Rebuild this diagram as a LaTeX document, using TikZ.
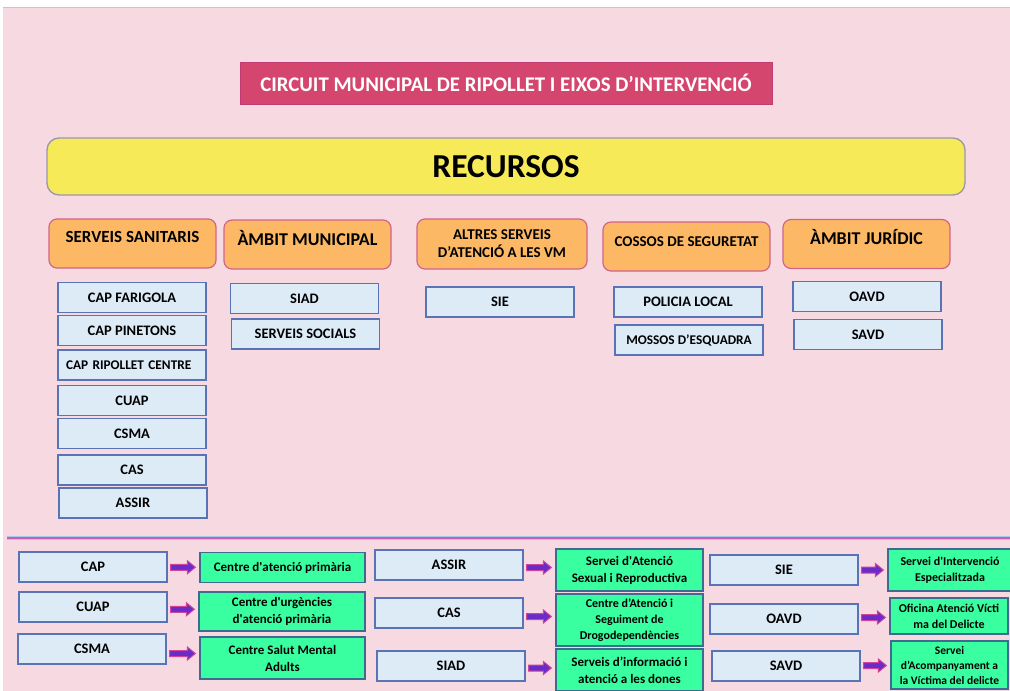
\documentclass[tikz,border=0pt]{standalone}
\usepackage{fontspec}
\setmainfont{Carlito}
\usetikzlibrary{calc}
\definecolor{bgpink}{HTML}{F6D9E1}
\definecolor{titlefill}{HTML}{D5466F}
\definecolor{titleedge}{HTML}{C23C74}
\definecolor{resfill}{HTML}{F6EA58}
\definecolor{resedge}{HTML}{9A96AC}
\definecolor{catfill}{HTML}{FDB865}
\definecolor{catedge}{HTML}{D2648A}
\definecolor{itemfill}{HTML}{DDEBF7}
\definecolor{itemedge}{HTML}{5A72B6}
\definecolor{descfill}{HTML}{3AFFA0}
\definecolor{descedge}{HTML}{3E6C90}
\definecolor{arrowfill}{HTML}{6A2BC9}
\definecolor{arrowedge}{HTML}{D0449A}
\definecolor{sepglow}{HTML}{A9C8EA}
\definecolor{sepline}{HTML}{C562B8}
\tikzset{
  catbox/.style={draw=catedge, fill=catfill, rounded corners=8pt, line width=1.2pt,
    minimum width=167pt, minimum height=49pt, inner sep=0pt, align=center,
    font=\fontsize{15}{18}\selectfont\bfseries},
  bigcat/.style={font=\fontsize{18}{20}\selectfont\bfseries},
  itembox/.style={draw=itemedge, fill=itemfill, line width=1.3pt, inner sep=0pt,
    minimum width=148pt, minimum height=30pt, font=\fontsize{14.5}{16}\selectfont\bfseries},
  descbox/.style={draw=descedge, fill=descfill, line width=1.3pt, inner sep=0pt, align=center,
    font=\fontsize{13}{17}\selectfont\bfseries},
  lift/.style={text depth=#1},
  arrowbody/.style={fill=arrowfill, draw=arrowedge, line width=1pt},
}
% block arrow from one box to the next
\newcommand{\linkarrow}[2]{%
  \draw[arrowbody] let \p1=(#1.east), \p2=(#2.west), \n1={(\y1+\y2)/2} in
    (\x1+3pt,\n1+3pt) -- (\x2-12pt,\n1+3pt) -- (\x2-12pt,\n1+6.5pt) -- (\x2-4pt,\n1)
    -- (\x2-12pt,\n1-6.5pt) -- (\x2-12pt,\n1-3pt) -- (\x1+3pt,\n1-3pt) -- cycle;}

\begin{document}
\begin{tikzpicture}[x=1pt,y=-1pt]
\useasboundingbox (0,0) rectangle (1010,691);
% background
\fill[white] (0,0) rectangle (1010,691);
\fill[bgpink] (3,7) rectangle (1010,691);
\draw[gray!45, line width=1pt] (3,7) -- (1010,7);
% title and header
\node[draw=titleedge, fill=titlefill, line width=1pt, minimum width=532pt, minimum height=42pt,
  text=white, font=\fontsize{20.8}{24}\selectfont\bfseries] (title) at (506,83)
  {CIRCUIT MUNICIPAL DE RIPOLLET I EIXOS D’INTERVENCIÓ};
\node[draw=resedge, fill=resfill, line width=1.3pt, rounded corners=12pt, minimum width=918pt,
  minimum height=57pt, font=\fontsize{33.5}{38}\selectfont\bfseries] (recursos) at (506,166.5) {RECURSOS};
% row of categories
\node[catbox, font=\fontsize{17}{20}\selectfont\bfseries, lift=13pt] (sanit) at (132.5,243.5) {SERVEIS SANITARIS};
\node[catbox, bigcat, lift=14pt] (munic) at (307.5,244.5) {ÀMBIT MUNICIPAL};
\node[catbox, minimum width=170pt, minimum height=50pt] (altres) at (502,244)
  {ALTRES SERVEIS\\D’ATENCIÓ A LES VM};
\node[catbox, lift=9pt] (cossos) at (686.5,246.5) {COSSOS DE SEGURETAT};
\node[catbox, bigcat, lift=14pt] (jurid) at (866.5,244) {ÀMBIT JURÍDIC};
% column 1 of resources
\node[itembox] (farigola) at (132,297.5) {CAP FARIGOLA};
\node[itembox] (pinetons) at (132,330.5) {CAP PINETONS};
\node[itembox, font=\fontsize{13.3}{15}\selectfont\bfseries, text width=132pt, align=left] (centre) at (132,365) {CAP RIPOLLET CENTRE};
\node[itembox] (cuap) at (132,400.5) {CUAP};
\node[itembox] (csma) at (132,433.5) {CSMA};
\node[itembox] (cas) at (132,470) {CAS};
\node[itembox] (assir) at (133,503) {ASSIR};
% columns 2 to 5
\node[itembox] (siad) at (304.5,298.5) {SIAD};
\node[itembox] (socials) at (305.5,334) {SERVEIS SOCIALS};
\node[itembox] (sie) at (500,302) {SIE};
\node[itembox] (policia) at (688,302) {POLICIA LOCAL};
\node[itembox, font=\fontsize{13.3}{15}\selectfont\bfseries] (mossos) at (689,340) {MOSSOS D’ESQUADRA};
\node[itembox] (oavd) at (867,296.5) {OAVD};
\node[itembox] (savd) at (868,334.5) {SAVD};
% separator
\draw[sepglow, line width=4pt] (7,538) -- (1010,538);
\draw[sepline, line width=1.3pt] (7,538) -- (1010,538);
% glossary, left
\node[itembox] (capk) at (93,567) {CAP};
\node[itembox] (cuapk) at (93,607) {CUAP};
\node[itembox] (csmak) at (92,649) {CSMA};
\node[descbox, minimum width=165pt, minimum height=30pt] (capd) at (282.5,567.5)
  {Centre d\textquotesingle atenció primària};
\node[descbox, minimum width=166pt, minimum height=39pt] (cuapd) at (282,611.5)
  {Centre d\textquotesingle urgències\\d\textquotesingle atenció primària};
\node[descbox, minimum width=165pt, minimum height=42pt] (csmad) at (282.5,658)
  {Centre Salut Mental\\Adults};
% glossary, middle
\node[itembox] (assirk) at (449,565) {ASSIR};
\node[itembox] (cask) at (449,613) {CAS};
\node[itembox] (siadk) at (451,666) {SIAD};
\node[descbox, minimum width=147pt, minimum height=42pt] (assird) at (629.5,570)
  {Servei d\textquotesingle Atenció\\Sexual i Reproductiva};
\node[descbox, minimum width=147pt, minimum height=52pt, font=\fontsize{12}{16}\selectfont\bfseries] (casd) at (629.5,620)
  {Centre d’Atenció i\\Seguiment de\\Drogodependències};
\node[descbox, minimum width=147pt, minimum height=42pt] (siadd) at (629.5,670)
  {Serveis d’informació i\\atenció a les dones};
% glossary, right
\node[itembox] (siek) at (784,570) {SIE};
\node[itembox] (oavdk) at (784,619) {OAVD};
\node[itembox] (savdk) at (786,666) {SAVD};
\node[descbox, minimum width=124pt, minimum height=42pt, font=\fontsize{12}{16}\selectfont\bfseries] (sied) at (950,570)
  {Servei d\textquotesingle Intervenció\\Especialitzada};
\node[descbox, minimum width=118pt, minimum height=36pt, font=\fontsize{12}{16}\selectfont\bfseries] (oavdd) at (949,616)
  {Oficina Atenció Vícti\\ma del Delicte};
\node[descbox, minimum width=117pt, minimum height=48pt, font=\fontsize{11.5}{15}\selectfont\bfseries] (savdd) at (949.5,665)
  {Servei\\d’Acompanyament a\\la Víctima del delicte};
% arrows
\linkarrow{capk}{capd}
\linkarrow{cuapk}{cuapd}
\linkarrow{csmak}{csmad}
\linkarrow{assirk}{assird}
\linkarrow{cask}{casd}
\linkarrow{siadk}{siadd}
\linkarrow{siek}{sied}
\linkarrow{oavdk}{oavdd}
\linkarrow{savdk}{savdd}
\end{tikzpicture}
\end{document}
